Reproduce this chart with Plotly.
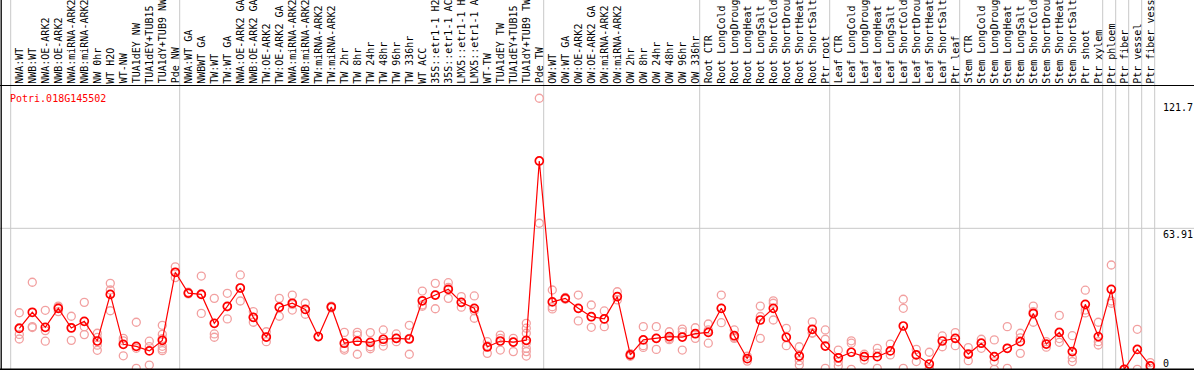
import plotly.graph_objects as go

categories = [
    "NWA:WT", "NWB:WT", "NWA:OE-ARK2", "NWB:OE-ARK2", "NWA:miRNA-ARK2", "NWB:miRNA-ARK2",
    "NW 0hr", "WT H2O", "WT-NW", "TUA1dEY NW", "TUA1dEY+TUB15", "TUA1dY+TUB9 NW", "Pde NW",
    "NWA:WT GA", "NWBWT GA", "TW:WT", "TW:WT GA", "NWA:OE-ARK2 GA", "NWB:OE-ARK2 GA",
    "TW:OE-ARK2", "TW:OE-ARK2 GA", "NWA:miRNA-ARK2", "NWB:miRNA-ARK2", "TW:miRNA-ARK2",
    "TW:miRNA-ARK2", "TW 2hr", "TW 8hr", "TW 24hr", "TW 48hr", "TW 96hr", "TW 336hr",
    "WT ACC", "35S::etr1-1 H2", "35S::etr1-1 AC", "LMX5::etr1-1 H", "LMX5::etr1-1 A",
    "WT-TW", "TUA1dEY TW", "TUA1dEY+TUB15", "TUA1dY+TUB9 TW", "Pde TW",
    "OW:WT", "OW:WT GA", "OW:OE-ARK2", "OW:OE-ARK2 GA", "OW:miRNA-ARK2", "OW:miRNA-ARK2",
    "OW 2hr", "OW 8hr", "OW 24hr", "OW 48hr", "OW 96hr", "OW 336hr",
    "Root CTR", "Root LongCold", "Root LongDroug", "Root LongHeat", "Root LongSalt",
    "Root ShortCold", "Root ShortDrou", "Root ShortHeat", "Root ShortSalt", "Ptr root",
    "Leaf CTR", "Leaf LongCold", "Leaf LongDroug", "Leaf LongHeat", "Leaf LongSalt",
    "Leaf ShortCold", "Leaf ShortDrou", "Leaf ShortHeat", "Leaf ShortSalt", "Ptr leaf",
    "Stem CTR", "Stem LongCold", "Stem LongDroug", "Stem LongHeat", "Stem LongSalt",
    "Stem ShortCold", "Stem ShortDrou", "Stem ShortHeat", "Stem ShortSalt", "Ptr shoot",
    "Ptr xylem", "Ptr phloem", "Ptr fiber", "Ptr vessel", "Ptr fiber vess",
]

means = [
    18.6, 25.9, 19.1, 27.7, 18.8, 21.8, 12.9, 34.0, 11.4, 10.5, 8.4, 13.2, 44.0,
    34.6, 34.0, 20.9, 28.6, 36.9, 23.6, 14.7, 28.2, 30.0, 27.2, 14.9, 28.3,
    11.9, 12.8, 12.3, 13.7, 14.1, 13.8, 31.1, 33.7, 36.3, 30.4, 27.7,
    10.2, 12.9, 12.4, 13.2, 94.4,
    30.6, 32.2, 27.7, 23.9, 22.9, 33.0, 6.6, 13.4, 14.1, 14.9, 14.7, 16.2,
    16.8, 27.7, 15.3, 4.9, 22.4, 27.7, 14.6, 6.1, 18.2, 10.6,
    5.3, 7.8, 5.8, 5.8, 8.4, 19.7, 6.6, 2.5, 12.9, 14.1,
    7.0, 11.9, 5.8, 9.6, 12.6, 25.4, 11.5, 16.8, 8.1, 29.5,
    14.9, 36.3, 0.1, 9.1, 1.6,
]

replicates = [
    [25.7, 15.9, 13.8, 18.9], [39.5, 19.4, 19.0], [26.8, 17.6, 12.8], [28.7, 26.2, 28.2],
    [24.1, 13.2, 19.0], [30.4, 19.4, 15.8], [16.4, 14.5, 11.0, 8.7], [39.0, 36.0, 26.6],
    [14.1, 13.0, 6.2], [21.4, 0.5, 9.6], [12.8, 2.0, 10.4], [20.0, 15.9, 14.0, 10.5, 9.3, 8.5],
    [46.5, 41.6, 44.0],
    [35.0, 34.2, 34.6], [42.3, 25.4, 34.3], [32.2, 16.1, 14.6], [34.5, 22.9, 28.4],
    [42.8, 31.0, 36.9], [26.2, 21.4, 23.6], [17.1, 12.6, 14.7], [32.2, 24.1, 28.2],
    [33.7, 26.9, 29.4], [30.0, 25.0, 27.2], [14.9, 14.9], [28.7, 27.9, 28.3],
    [16.8, 9.6, 8.8], [16.8, 15.6, 6.9], [16.7, 10.3, 9.4], [17.9, 10.6, 12.6],
    [16.1, 12.6, 14.1], [20.0, 6.9, 14.1], [35.5, 29.2, 28.6], [39.0, 27.5, 33.7],
    [39.3, 37.2, 32.2], [33.0, 28.2, 30.4], [33.3, 26.6, 23.2],
    [12.6, 7.3, 10.7], [15.6, 8.8, 14.1], [14.1, 8.1, 12.4],
    [20.9, 18.7, 16.4, 11.9, 9.6, 8.1, 6.1], [122.8, 66.2],
    [36.0, 28.4, 27.4], [32.6, 31.8], [33.7, 22.0, 27.7], [29.2, 19.1, 23.9],
    [26.5, 19.4, 22.9], [35.2, 31.5, 33.0], [6.6, 6.0, 7.2], [19.4, 10.0, 10.8],
    [19.4, 9.1, 14.1], [17.1, 14.0, 13.5], [18.3, 8.8, 17.0], [18.9, 14.1, 16.2],
    [20.6, 11.9, 17.9], [33.7, 21.2, 27.7], [17.9, 14.1, 14.6], [6.0, 3.8],
    [28.7, 14.1, 24.0], [31.1, 30.0, 22.4], [18.6, 10.8], [10.3, 4.0, 2.0],
    [21.6, 16.4, 16.6], [17.9, 13.7, 0.5],
    [8.8, 3.5, 1.6], [13.0, 11.9, 0.1], [6.9, 4.3], [9.6, 0.5, 7.4], [11.5, 6.6],
    [31.8, 27.7, 0.5], [9.1, 3.6, 6.6], [7.8, 0.5, 0.1], [15.2, 10.3], [16.7, 10.8],
    [9.9, 4.0], [13.7, 9.6], [13.4, 3.6, 0.1], [19.4, 0.5, 9.6], [16.4, 7.3, 14.3],
    [28.7, 21.4, 26.2], [12.6, 10.1], [24.5, 12.3, 14.0], [15.3, 5.3, 3.6],
    [35.9, 26.9, 25.6], [21.4, 12.6, 11.1], [47.3, 31.0, 30.0], [0.1],
    [18.2, 0.1], [3.1, 0.5],
]

group_starts = [0, 13, 41, 53, 63, 73, 84, 85, 86, 87, 88]

axis_labels = ["121.7", "63.91", "0"]
axis_values = [121.7, 63.91, 0.0]
gene_name = "Potri.018G145502"

W, H = 1194, 370
X0_PX, DX_PX = 19.3, 13.0
ZERO_PX, PX_PER_UNIT = 369.5, 2.209
HEADER_PX = 85.5
FONT = "DejaVu Sans Mono, monospace"


def py(p):
    return 1 - p / H


idx = list(range(len(categories)))
rep_x, rep_y = [], []
for i, vals in enumerate(replicates):
    for v in vals:
        rep_x.append(i)
        rep_y.append(v)

fig = go.Figure()
fig.add_trace(go.Scatter(
    x=rep_x, y=rep_y, mode="markers", hoverinfo="skip",
    marker=dict(symbol="circle-open", size=8, color="#f2a0a0", line=dict(width=1.3, color="#f2a0a0")),
    showlegend=False, cliponaxis=False,
))
fig.add_trace(go.Scatter(
    x=idx, y=means, mode="lines+markers",
    line=dict(color="#ff0000", width=1.2),
    marker=dict(symbol="circle-open", size=8, color="#ff0000", line=dict(width=1.7, color="#ff0000")),
    showlegend=False, cliponaxis=False,
))

shapes = []
for g in group_starts:
    xg = g - 8.6 / DX_PX
    shapes.append(dict(type="line", xref="x", yref="paper", x0=xg, x1=xg, y0=0, y1=1,
                       line=dict(color="#c8c8c8", width=1), layer="below"))
shapes.append(dict(type="line", xref="paper", yref="y", x0=0, x1=1, y0=63.91, y1=63.91,
                   line=dict(color="#c8c8c8", width=1), layer="below"))
shapes.append(dict(type="line", xref="paper", yref="paper", x0=0, x1=1,
                   y0=py(HEADER_PX), y1=py(HEADER_PX), line=dict(color="black", width=1)))
shapes.append(dict(type="line", xref="paper", yref="paper", x0=1.2 / W, x1=1.2 / W,
                   y0=0, y1=1, line=dict(color="black", width=1.3)))
shapes.append(dict(type="line", xref="paper", yref="paper", x0=0, x1=1,
                   y0=py(369.3), y1=py(369.3), line=dict(color="black", width=1.5)))

annotations = []
for i, c in enumerate(categories):
    annotations.append(dict(
        x=i, xref="x", y=py(84.5), yref="paper", text=c, textangle=-90,
        showarrow=False, xanchor="center", yanchor="bottom",
        font=dict(family=FONT, size=10, color="black"), borderpad=0,
    ))
annotations.append(dict(
    x=9 / W, xref="paper", y=py(92), yref="paper", text=gene_name, showarrow=False,
    xanchor="left", yanchor="top", font=dict(family=FONT, size=10, color="#ff0000"), borderpad=0,
))
for lab, val in zip(axis_labels, axis_values):
    annotations.append(dict(
        x=1162 / W, xref="paper", y=val, yref="y", text=lab, showarrow=False,
        xanchor="left", yanchor="bottom" if val == 0 else "top",
        font=dict(family=FONT, size=10, color="black"), borderpad=0,
    ))

fig.update_layout(
    width=W, height=H, margin=dict(l=0, r=0, t=0, b=0),
    paper_bgcolor="white", plot_bgcolor="white",
    xaxis=dict(range=[-X0_PX / DX_PX, (W - X0_PX) / DX_PX], visible=False, showgrid=False, zeroline=False),
    yaxis=dict(range=[(ZERO_PX - H) / PX_PER_UNIT, ZERO_PX / PX_PER_UNIT], visible=False,
               showgrid=False, zeroline=False),
    shapes=shapes, annotations=annotations, showlegend=False,
)

fig.write_html(
    "out.html",
    config={"displayModeBar": False},
    post_script="document.body.style.margin='0';document.body.style.overflow='hidden';",
)
